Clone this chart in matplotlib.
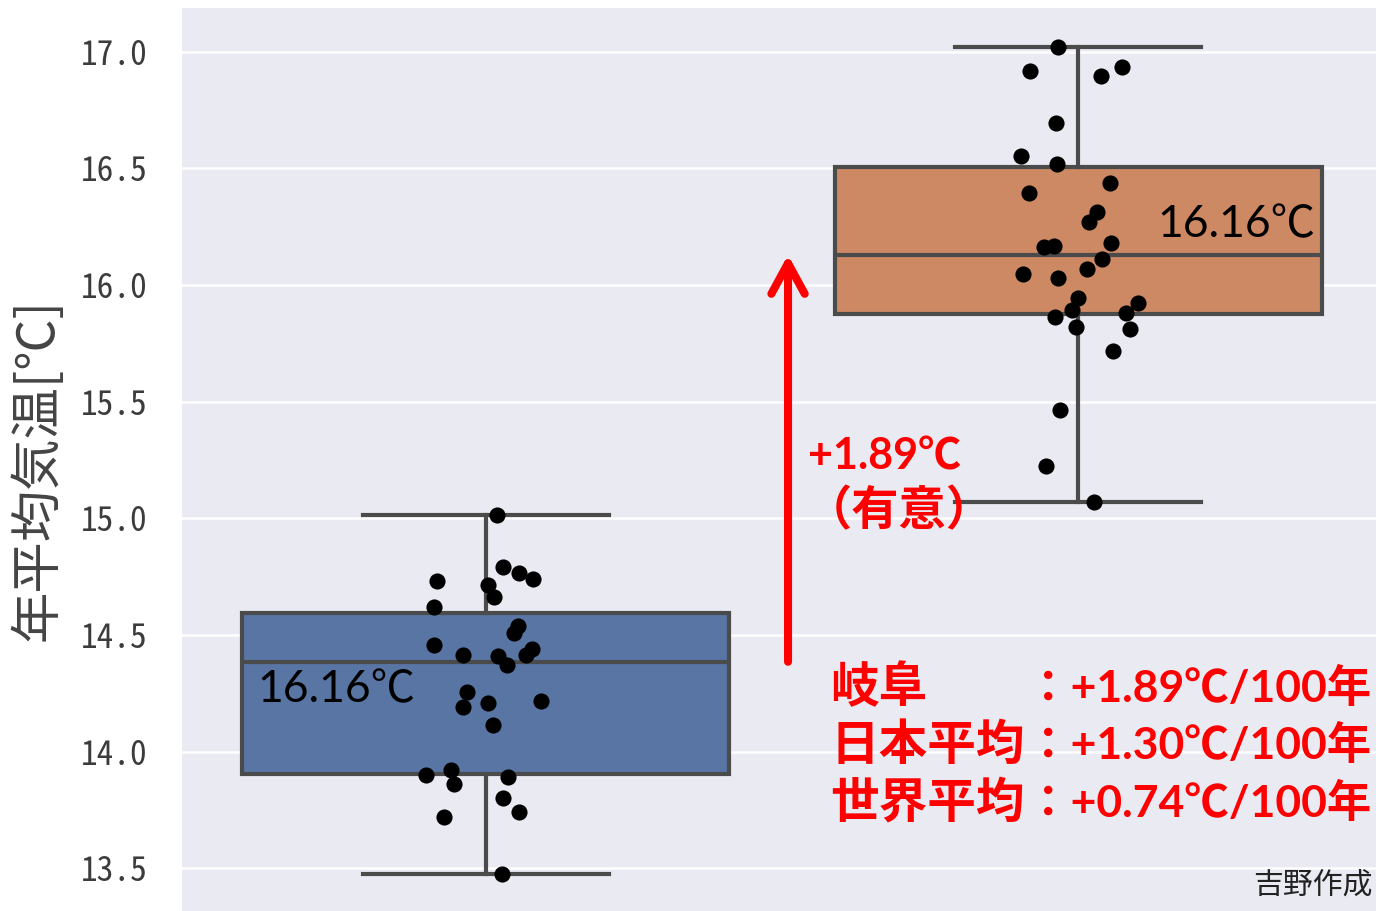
import matplotlib
matplotlib.use("Agg")
import matplotlib.pyplot as plt

# Annual mean temperature (°C) for the two periods
temps_early = [15.014, 14.793, 14.767, 14.739, 14.732, 14.714, 14.664, 14.621,
               14.540, 14.507, 14.457, 14.415, 14.439, 14.415, 14.410, 14.371,
               14.257, 14.190, 14.207, 14.217, 14.114, 13.900, 13.921, 13.861,
               13.893, 13.800, 13.740, 13.719, 13.476]
temps_late = [17.019, 16.917, 16.897, 16.936, 16.693, 16.553, 16.519, 16.436,
              16.393, 16.312, 16.271, 16.162, 16.169, 16.179, 16.110, 16.069,
              16.046, 16.029, 15.946, 15.922, 15.893, 15.881, 15.862, 15.821,
              15.812, 15.719, 15.464, 15.224, 15.071]

# horizontal strip offsets of each point (category units)
jitter_early = [0.019, 0.029, 0.056, 0.080, -0.082, 0.003, 0.014, -0.087,
                0.055, 0.047, -0.087, -0.038, 0.078, 0.068, 0.021, 0.036,
                -0.031, -0.038, 0.003, 0.093, 0.013, -0.100, -0.059, -0.053,
                0.038, 0.029, 0.056, -0.070, 0.027]
jitter_late = [-0.035, -0.082, 0.038, 0.074, -0.038, -0.097, -0.036, 0.053,
               -0.084, 0.031, 0.017, -0.058, -0.042, 0.055, 0.039, 0.014,
               -0.094, -0.035, -0.001, 0.100, -0.011, 0.080, -0.040, -0.004,
               0.087, 0.059, -0.031, -0.055, 0.026]

# box statistics
box_q1 = [13.903, 15.877]
box_median = [14.385, 16.129]
box_q3 = [14.593, 16.504]

box_labels = ["16.16℃", "16.16℃"]
trend_label = "+1.89℃"
trend_note = "（有意）"
rate_names = ["岐阜", "日本平均", "世界平均"]
rate_values = ["：+1.89℃/100年", "：+1.30℃/100年", "：+0.74℃/100年"]
y_label = "年平均気温[℃]"
credit = "吉野作成"
yticks = [13.5, 14.0, 14.5, 15.0, 15.5, 16.0, 16.5, 17.0]

W, H = 1376, 911
fig = plt.figure(figsize=(W / 100, H / 100), dpi=100, facecolor="white")
ax = fig.add_axes([182 / W, 0.0, 1 - 182 / W, (H - 8) / H])
ax.set_facecolor("#eaeaf2")
for s in ax.spines.values():
    s.set_visible(False)

series = [temps_early, temps_late]
jitters = [jitter_early, jitter_late]
stats = []
for i, vals in enumerate(series):
    stats.append(dict(med=box_median[i], q1=box_q1[i], q3=box_q3[i],
                      whislo=min(vals), whishi=max(vals), fliers=[]))

line_c = "#4b4b4b"
lw = 3.0
bp = ax.bxp(stats, positions=[0, 1], widths=0.822, capwidths=0.415,
            patch_artist=True, showfliers=False,
            boxprops=dict(linewidth=lw, edgecolor=line_c),
            whiskerprops=dict(linewidth=lw, color=line_c),
            capprops=dict(linewidth=lw, color=line_c),
            medianprops=dict(linewidth=lw, color=line_c), zorder=2)
for patch, fc in zip(bp["boxes"], ["#5875a4", "#cc8963"]):
    patch.set_facecolor(fc)

for i, (vals, jit) in enumerate(zip(series, jitters)):
    ax.scatter([i + j for j in jit], vals, s=135, color="black",
               linewidths=0, zorder=3)

ax.set_xlim(-0.5125, 1.502)
ax.set_ylim(13.317, 17.187)
ax.set_xticks([])
ax.set_yticks(yticks)
ax.set_yticklabels([f"{v:.1f}" for v in yticks],
                   family=["Noto Sans Mono CJK JP", "DejaVu Sans Mono"],
                   fontsize=24, color="#3c3c3c")
ax.tick_params(axis="y", length=0, pad=25)
ax.yaxis.grid(True, color="white", linewidth=1.8)
ax.set_axisbelow(True)

latin_cjk = ["Lato", "Noto Sans CJK JP"]

# median labels inside the boxes
ax.text(-0.386, 14.264, box_labels[0], family=latin_cjk, fontsize=32,
        color="black", ha="left", va="center", zorder=4)
ax.text(1.134, 16.257, box_labels[1], family=latin_cjk, fontsize=32,
        color="black", ha="left", va="center", zorder=4)

# change between the two medians
ax.annotate("", xy=(0.510, box_median[1]), xytext=(0.510, box_median[0]),
            arrowprops=dict(arrowstyle="->,head_length=1.1,head_width=0.6",
                            color="#ff0000", lw=5.8, mutation_scale=20,
                            shrinkA=0, shrinkB=0, capstyle="round",
                            joinstyle="round"), zorder=4)
ax.text(0.544, 15.263, trend_label, family=latin_cjk, fontsize=31,
        fontweight="bold", color="#ff0000", ha="left", va="center", zorder=4)
ax.text(0.538, 15.035, trend_note, family=latin_cjk, fontsize=34,
        fontweight="bold", color="#ff0000", ha="left", va="center", zorder=4)

row_y = [688, 745, 803]
for name, val, py in zip(rate_names, rate_values, row_y):
    fig.text(830 / W, 1 - py / H, name, family=["Noto Sans CJK JP"],
             fontsize=35, fontweight="bold", color="#ff0000",
             ha="left", va="center")
    fig.text(1026 / W, 1 - py / H, val, family=latin_cjk, fontsize=32,
             fontweight="bold", color="#ff0000", ha="left", va="center")

fig.text(1253 / W, 1 - 885 / H, credit, family=["Noto Sans CJK JP"],
         fontsize=21.5, color="#222222", ha="left", va="center")

fig.text(38 / W, 1 - 470 / H, y_label, family=["Noto Sans CJK JP"],
         fontsize=37, color="#444444", rotation=90, ha="center", va="center")

fig.savefig("out.png", dpi=100, facecolor="white")
